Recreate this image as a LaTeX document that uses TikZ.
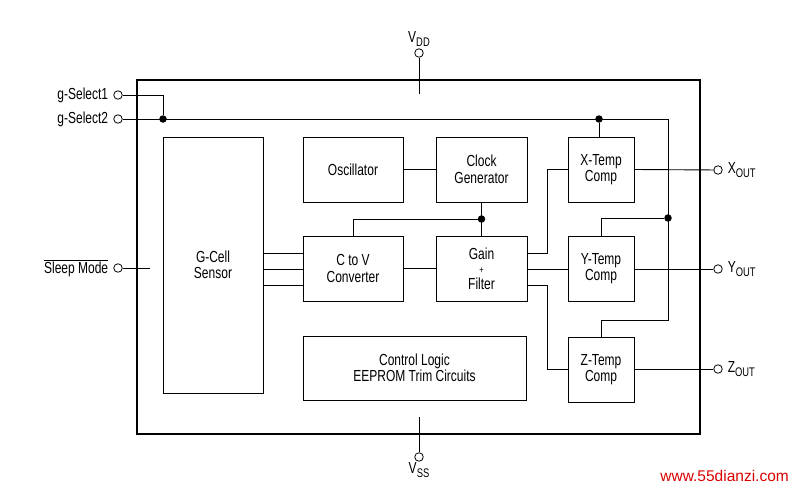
\documentclass[tikz,border=0pt]{standalone}
\usepackage{fontspec}
\setmainfont{Liberation Sans}[FakeStretch=0.75]
\newfontfamily\webfont{Liberation Sans}
\usepackage{tikz}
\newcommand{\pinsub}[1]{\raisebox{-.45ex}{\fontsize{12.5}{12}\selectfont #1}}

\begin{document}
\begin{tikzpicture}[x=1pt, y=-1pt,
  blk/.style={draw, line width=.9pt, align=center, inner sep=0pt,
    font=\fontsize{16}{16.5}\selectfont},
  wire/.style={line width=.9pt},
  pin/.style={circle, draw, line width=.8pt, fill=white, inner sep=0pt, minimum size=8.5pt},
  lbl/.style={font=\fontsize{16}{16.5}\selectfont, inner sep=1pt},
  dot/.style={circle, fill=black, inner sep=0pt, minimum size=7.5pt}
  ]
  \useasboundingbox (0,0) rectangle (793,487);
  \draw[line width=2.4pt] (137,80) rectangle (700,434);

  \node[blk, minimum width=100, minimum height=256] (gcell) at (213,265) {G-Cell\\Sensor};
  \node[blk, minimum width=100, minimum height=65] (osc) at (353,169.5) {Oscillator};
  \node[blk, minimum width=91, minimum height=65] (clk) at (481.5,169.5) {Clock\\Generator};
  \node[blk, minimum width=100, minimum height=65] (ctov) at (353,268.5) {C to V\\Converter};
  \node[blk, minimum width=91, minimum height=65] (gain) at (481.5,268.5) {Gain\\[-2pt]{\fontsize{10}{10}\selectfont +}\\[-1pt]Filter};
  \node[blk, minimum width=66, minimum height=65] (xt) at (601,169.5) {X-Temp\\Comp};
  \node[blk, minimum width=66, minimum height=65] (yt) at (601,268.5) {Y-Temp\\Comp};
  \node[blk, minimum width=66, minimum height=65] (zt) at (601,369.5) {Z-Temp\\Comp};
  \node[blk, minimum width=223, minimum height=64] (ctrl) at (414.5,368) {Control Logic\\EEPROM Trim Circuits};

  \node[pin] (gs1) at (118,95) {};
  \node[pin] (gs2) at (118,119) {};
  \node[pin] (sleep) at (118,268) {};
  \node[pin] (vdd) at (419,53) {};
  \node[pin] (vss) at (419,457) {};
  \node[pin] (xout) at (718,170) {};
  \node[pin] (yout) at (718,269) {};
  \node[pin] (zout) at (718,369) {};

  \node[lbl, anchor=east, xshift=-4pt] at (gs1.west) {g-Select1};
  \node[lbl, anchor=east, xshift=-4pt] at (gs2.west) {g-Select2};
  \node[lbl, anchor=east, xshift=-4pt] at (sleep.west) {\ensuremath{\overline{\hbox{Sleep Mode}}}};
  \node[lbl, anchor=south, yshift=1pt] at (vdd.north) {V\pinsub{DD}};
  \node[lbl, anchor=north] at (vss.south) {V\pinsub{SS}};
  \node[lbl, anchor=west, xshift=4pt] at (xout.east) {X\pinsub{OUT}};
  \node[lbl, anchor=west, xshift=4pt] at (yout.east) {Y\pinsub{OUT}};
  \node[lbl, anchor=west, xshift=4pt] at (zout.east) {Z\pinsub{OUT}};

  \node[dot] (j1) at (163,119) {};
  \node[dot] (j2) at (599,119) {};
  \node[dot] (j3) at (668,218) {};
  \node[dot] (j4) at (481.5,219) {};
  \coordinate (top) at (419,94);
  \coordinate (bot) at (419,417);
  \coordinate (slp) at (150,268);
  \coordinate (bus) at (668,119);

  \draw[wire] (gs1) -| (j1);
  \draw[wire] (gs2) -- (bus) -- (668,320) -| (zt.north);
  \draw[wire] (j2) -- (j2 |- xt.north);
  \draw[wire] (j3) -| (yt.north);
  \draw[wire] (vdd) -- (top);
  \draw[wire] (bot) -- (vss);
  \draw[wire] (sleep) -- (slp);
  \draw[wire] (osc) -- (clk);
  \draw[wire] (clk) -- (gain);
  \draw[wire] (j4) -| (ctov.north);
  \foreach \yy in {253,269,285}
    \draw[wire] (gcell.east |- 0,\yy) -- (ctov.west |- 0,\yy);
  \draw[wire] (ctov) -- (gain);
  \draw[wire] (gain.east |- 0,253) -- (547,253) |- (xt.west);
  \draw[wire] (gain.east |- 0,269) -- (yt.west |- 0,269);
  \draw[wire] (gain.east |- 0,285) -- (547,285) |- (zt.west);
  \draw[wire] (xt.east) -- (xout);
  \draw[wire] (yt.east |- yout) -- (yout);
  \draw[wire] (zt.east |- zout) -- (zout);

  \node[anchor=east, inner sep=0pt, text=red!85!black,
    font=\webfont\fontsize{15.5}{16}\selectfont] (web) at (789,476) {www.55dianzi.com};
\end{tikzpicture}
\end{document}
